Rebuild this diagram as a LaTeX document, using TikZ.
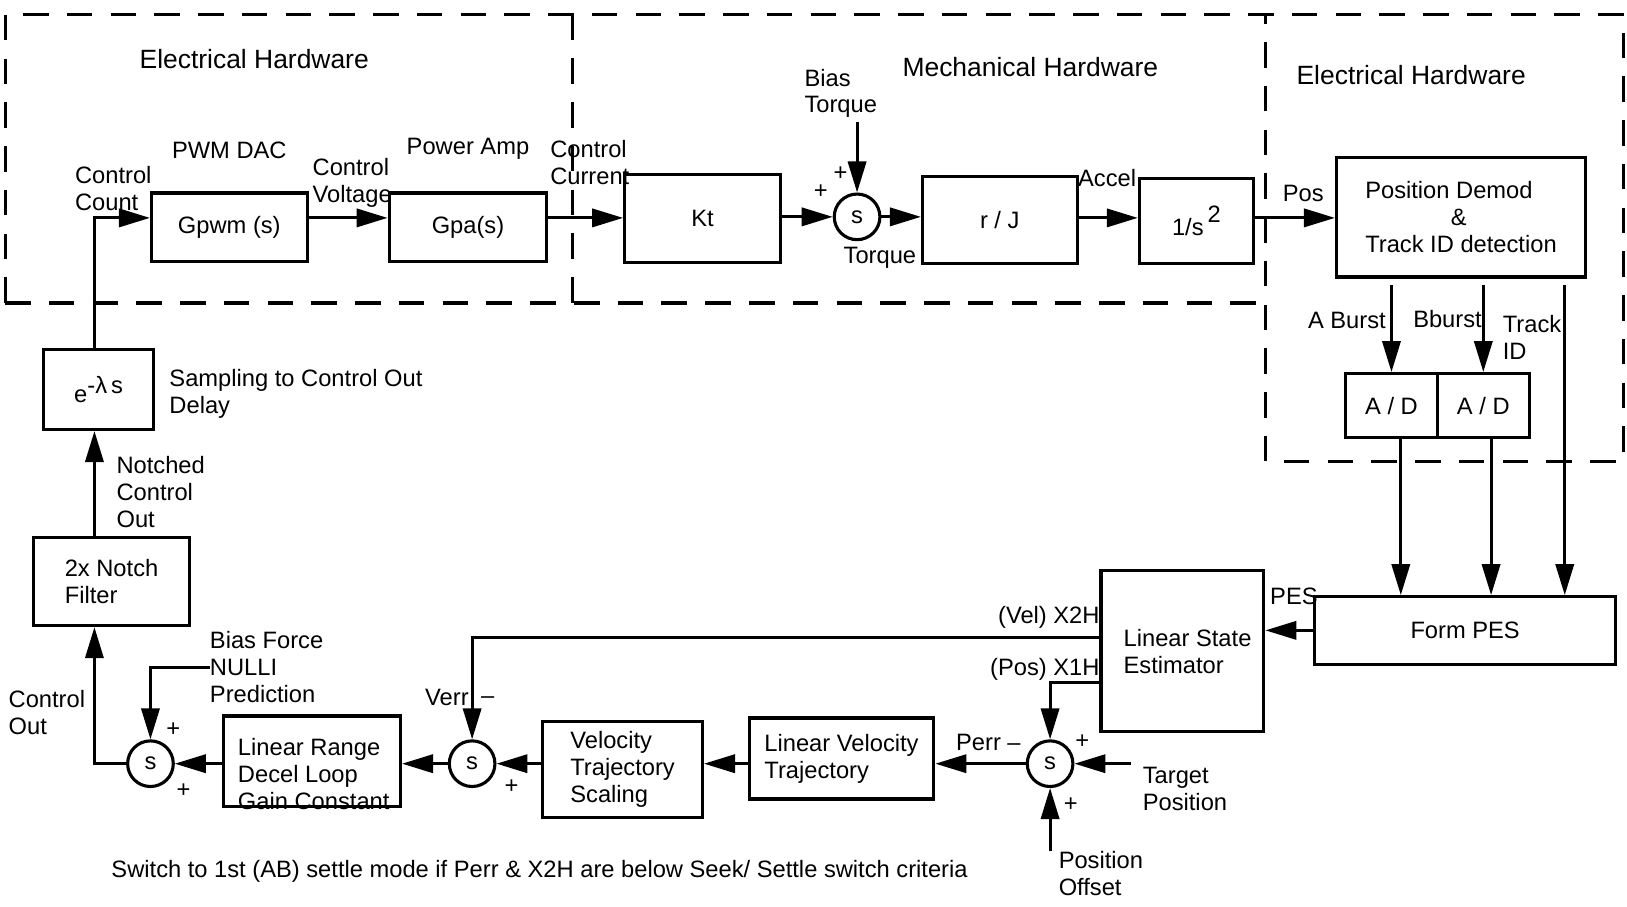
\documentclass[tikz,border=0pt]{standalone}
\usepackage{fontspec}
\setmainfont{Liberation Sans}
\usetikzlibrary{arrows.meta,positioning}

\tikzset{
  blk/.style={draw, line width=1.7pt, inner sep=2pt, align=center},
  sumnode/.style={draw, circle, line width=1.7pt, minimum size=0.88cm, inner sep=0pt},
  lbl/.style={inner sep=0pt, align=left},
  hdr/.style={inner sep=0pt, font=\fontsize{14.5}{17}\selectfont},
  arr/.style={line width=1.6pt, -{Triangle[length=17pt,width=10pt]}},
  region/.style={line width=1.7pt, dash pattern=on 14pt off 10pt},
}

\begin{document}
\begin{tikzpicture}[x=0.02cm, y=-0.02cm, font=\fontsize{13}{14.8}\selectfont]
\useasboundingbox (0,0) rectangle (1568,874);

% hardware regions
\draw[region] (5,292) -- (5,14) -- (1565,14) -- (1565,445) -- (1220,445) -- (1220,14);
\draw[region] (5,292) -- (1220,292);
\draw[region] (552,14) -- (552,292);
\node[hdr] (elecl) at (245,57) {Electrical Hardware};
\node[hdr] (mech) at (993,65) {Mechanical Hardware};
\node[hdr] (elecr) at (1360,72) {Electrical Hardware};

% forward path
\coordinate (row) at (0,210);
\node[blk, minimum width=3cm, minimum height=1.32cm] (gpwm) at (221,219) {Gpwm (s)};
\node[blk, minimum width=3.04cm, minimum height=1.32cm] (gpa) at (451,219) {Gpa(s)};
\node[blk, minimum width=3cm, minimum height=1.7cm] (kt) at (677,210.5) {Kt};
\node[sumnode] (sumt) at (826,209) {s};
\node[blk, minimum width=2.98cm, minimum height=1.68cm] (rj) at (963.5,212) {r / J};
\node[blk, minimum width=2.2cm, minimum height=1.64cm] (dint) at (1153,213) {1/s\,\raisebox{1ex}{2}};
\node[blk, minimum width=4.8cm, minimum height=2.3cm, align=left] (demod) at (1408,209.5) {Position Demod\\\hspace*{1.65cm}\&\\Track ID detection};
\node[blk, minimum width=1.76cm, minimum height=1.24cm] (ada) at (1341,391) {A / D};
\node[blk, minimum width=1.78cm, minimum height=1.24cm] (adb) at (1429.5,391) {A / D};

\node[lbl] (pwmlbl) at (221,145) {PWM DAC};
\node[lbl] (amplbl) at (451,143) {Power Amp};
\node[lbl, anchor=west] (cntlbl) at (72,182) {Control\\Count};
\node[lbl, anchor=west] (voltlbl) at (301,176) {Control\\Voltage};
\node[lbl, anchor=west] (curlbl) at (530,157) {Control\\Current};
\node[lbl, anchor=west] (biaslbl) at (775,90) {Bias\\Torque};
\node[lbl] (plusa) at (810,167) {+};
\node[lbl] (plusb) at (791,185) {+};
\node[lbl] (torqlbl) at (848,248) {Torque};
\node[lbl] (acclbl) at (1067,172) {Accel};
\node[lbl] (poslbl) at (1256,186) {Pos};
\node[lbl] (albl) at (1298,309) {A Burst};
\node[lbl] (blbl) at (1395,307) {Bburst};
\node[lbl, anchor=west] (tidlbl) at (1448,325) {Track\\ID};

\coordinate (btq) at (826,118);
\draw[arr] (btq) -- (sumt.north);
\draw[arr] (gpwm.east |- row) -- (gpa.west |- row);
\draw[arr] (gpa.east |- row) -- (kt.west |- row);
\draw[arr] (kt.east |- sumt) -- (sumt.west);
\draw[arr] (sumt.east) -- (rj.west |- sumt);
\draw[arr] (rj.east |- row) -- (dint.west |- row);
\draw[arr] (dint.east |- row) -- (demod.west |- row);
\draw[arr] ([yshift=-0.12cm]ada.north |- demod.south) -- (ada.north);
\draw[arr] ([yshift=-0.12cm]adb.north |- demod.south) -- (adb.north);

% estimator and seek loop
\node[blk, minimum width=5.8cm, minimum height=1.3cm] (formpes) at (1412,607.5) {Form PES};
\node[blk, minimum width=3.14cm, minimum height=3.1cm, align=left] (lse) at (1139.5,627.5) {\hspace*{0.2cm}Linear State\\\hspace*{0.2cm}Estimator};
\node[sumnode] (sump) at (1012,736) {s};
\node[blk, minimum width=3.56cm, minimum height=1.56cm, align=left] (lvt) at (811,731) {Linear Velocity\\Trajectory};
\node[blk, minimum width=3.08cm, minimum height=1.86cm, align=left] (vts) at (600,741.5) {Velocity\\Trajectory\\Scaling};
\node[sumnode] (sumv) at (455,736) {s};
\node[blk, minimum width=3.42cm, minimum height=1.74cm] (lrd) at (300.5,733.5) {};
\node[lbl, anchor=west] (lrdtxt) at (229,746) {Linear Range\\Decel Loop\\Gain Constant};
\node[sumnode] (sumc) at (145,736) {s};
\node[blk, minimum width=3.02cm, minimum height=1.7cm, align=left] (notch) at (107.5,560.5) {2x Notch\\Filter};
\node[blk, minimum width=2.12cm, minimum height=1.54cm] (delay) at (95,375.5) {e\raisebox{0.7ex}{-λ\,s}};

\node[lbl] (peslbl) at (1247,575) {PES};
\node[lbl, anchor=east] (x2hlbl) at (1060,595) {(Vel) X2H};
\node[lbl, anchor=east] (x1hlbl) at (1060,645) {(Pos) X1H};
\node[lbl, anchor=east] (perrlbl) at (984,716) {Perr –};
\node[lbl] (plusc) at (1043,715) {+};
\node[lbl] (plusd) at (1032,775) {+};
\node[lbl, anchor=west] (tgtlbl) at (1101,760) {Target\\Position};
\node[lbl, anchor=west] (ofslbl) at (1020,842) {Position\\Offset};
\node[lbl, anchor=east] (verrlbl) at (452,672) {Verr};
\node[lbl] (minv) at (470,675) {–};
\node[lbl] (pluse) at (493,758) {+};
\node[lbl] (plusf) at (167,703) {+};
\node[lbl] (plusg) at (177,762) {+};
\node[lbl, anchor=west] (bflbl) at (202,643) {Bias Force\\NULLI\\Prediction};
\node[lbl, anchor=west] (outlbl) at (8,687) {Control\\Out};
\node[lbl, anchor=west] (notchlbl) at (112,474) {Notched\\Control\\Out};
\node[lbl, anchor=west] (dlylbl) at (163,380) {Sampling to Control Out\\Delay};
\node[lbl] (note) at (520,840) {Switch to 1st (AB) settle mode if Perr \& X2H are below Seek/ Settle switch criteria};

\coordinate (trk) at (1508,0);
\coordinate (pa) at (1350,0);
\coordinate (pb) at (1437,0);
\coordinate (velrow) at (0,614);
\coordinate (posrow) at (0,658);
\coordinate (tgt) at (1090,736);
\coordinate (ofs) at (1012,820);
\coordinate (bf) at (202,643);
\coordinate (col) at (91,0);

\draw[arr] ([yshift=-0.12cm]trk |- demod.south) -- (trk |- formpes.north);
\draw[arr] (pa |- ada.south) -- (pa |- formpes.north);
\draw[arr] (pb |- adb.south) -- (pb |- formpes.north);
\draw[arr] (formpes.west) -- (formpes.west -| lse.east);
\draw[arr] (lse.west |- velrow) -| (sumv.north);
\draw[arr] (lse.west |- posrow) -| (sump.north);
\draw[arr] (tgt) -- (sump.east);
\draw[arr] (ofs) -- (sump.south);
\draw[arr] (sump.west) -- (lvt.east |- sump.west);
\draw[arr] (lvt.west |- sump.west) -- (vts.east |- sump.west);
\draw[arr] (vts.west |- sumv.east) -- (sumv.east);
\draw[arr] (sumv.west) -- (lrd.east |- sumv.west);
\draw[arr] (lrd.west |- sumc.east) -- (sumc.east);
\draw[arr] (bf) -| (sumc.north);
\draw[arr] (sumc.west) -| (col |- notch.south);
\draw[arr] (col |- notch.north) -- (col |- delay.south);
\draw[arr] (col |- delay.north) |- (gpwm.west |- row);
\end{tikzpicture}
\end{document}
